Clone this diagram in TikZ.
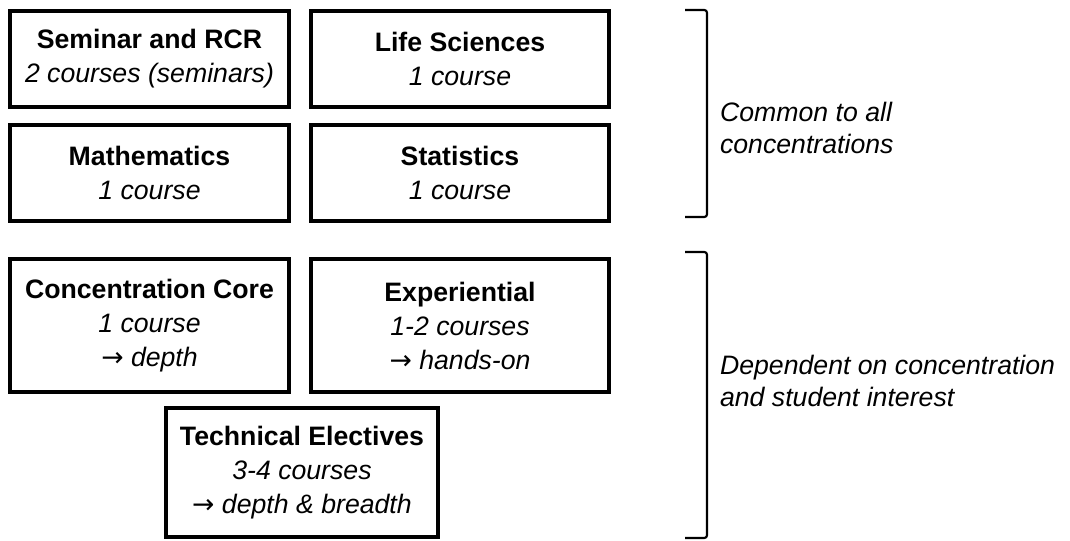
\documentclass[tikz,border=0pt]{standalone}
\usepackage{fontspec}
\setmainfont{Liberation Sans}
\newfontfamily\arrowfont{DejaVu Sans}
\newcommand{\toarrow}{{\arrowfont\itshape →}}
\begin{document}
\begin{tikzpicture}[x=.75pt,y=-.75pt,
  box/.style={draw,line width=2.6pt,align=center,inner sep=0pt,
    font=\fontsize{20pt}{25.5pt}\selectfont},
  note/.style={anchor=west,align=left,inner sep=0pt,
    font=\fontsize{20pt}{24pt}\selectfont\itshape}]
\useasboundingbox (0,0) rectangle (1070,540);
\pgfsetlinewidth{1.6pt}
%
% common courses
\node[box,minimum width=209.25pt,minimum height=72pt] (seminar) at (149.5,59)
  {\textbf{Seminar and RCR}\\\textit{2 courses (seminars)}};
\node[box,minimum width=223.5pt,minimum height=72pt] (life) at (460,59)
  {\textbf{Life Sciences}\\\textit{1 course}};
\node[box,minimum width=209.25pt,minimum height=72pt] (math) at (149.5,173)
  {\textbf{Mathematics}\\\textit{1 course}};
\node[box,minimum width=223.5pt,minimum height=72pt] (stat) at (460,173)
  {\textbf{Statistics}\\\textit{1 course}};
%
% concentration courses
\node[box,minimum width=209.25pt,minimum height=99.75pt] (core) at (149.5,325.5)
  {\textbf{Concentration Core}\\\textit{1 course}\\\toarrow\ \textit{depth}};
\node[box,minimum width=223.5pt,minimum height=99.75pt] (exper) at (460,325.5)
  {\textbf{Experiential}\\\textit{1-2 courses}\\\toarrow\ \textit{hands-on}};
\node[box,minimum width=204pt,minimum height=96.75pt] (tech) at (302,472.5)
  {\textbf{Technical Electives}\\\textit{3-4 courses}\\\toarrow\ \textit{depth \& breadth}};
%
% brackets
\draw[rounded corners=2pt] (685,10) -- (707,10) -- (707,217) -- (685,217);
\draw[rounded corners=2pt] (685,252) -- (707,252) -- (707,538) -- (685,538);
\node[note] (common) at (719,128) {Common to all\\concentrations};
\node[note] (depend) at (719,381) {Dependent on concentration\\and student interest};
\end{tikzpicture}
\end{document}
